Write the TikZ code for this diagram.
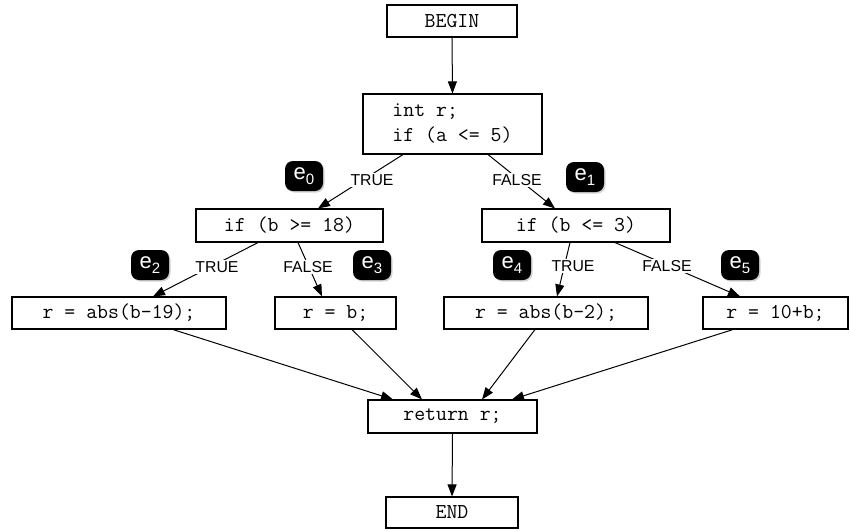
\documentclass[tikz,border=0pt]{standalone}
\usepackage{fontspec}
\setmainfont{Liberation Sans}
\usetikzlibrary{arrows.meta,shadows}
\tikzset{
  box/.style={draw=black, line width=1.1pt, fill=white, inner sep=0pt, minimum height=32pt,
    font=\ttfamily\fontsize{21.2}{25}\selectfont},
  lbl/.style={fill=white, inner sep=1.5pt, font=\fontsize{15.8}{16}\selectfont},
  conn/.style={line width=1pt, -{Triangle[length=12pt,width=9pt]}},
  badge/.style={fill=black, rounded corners=8pt, minimum width=38pt, minimum height=30pt, inner sep=0pt,
    text=white, drop shadow={shadow xshift=1.5pt, shadow yshift=-1.5pt, opacity=0.35}}
}
\newcommand{\ebadge}[1]{\fontsize{22}{22}\selectfont e\raisebox{-5pt}{\fontsize{15}{15}\selectfont #1}}
\begin{document}
\begin{tikzpicture}[x=1pt,y=-1pt]
\useasboundingbox (0,0) rectangle (850,530);
% boxes
\node[box, minimum width=130pt, minimum height=32pt] (begin) at (452,21) {BEGIN};
\node[box, minimum width=179pt, minimum height=60pt, align=left] (int) at (452.5,124) {int r;\\if (a <= 5)};
\node[box, minimum width=187pt, minimum height=33pt] (b18) at (289.5,225.5) {if (b >= 18)};
\node[box, minimum width=188pt, minimum height=33pt] (b3) at (576,225.5) {if (b <= 3)};
\node[box, minimum width=214pt] (abs19) at (119,313) {r = abs(b-19);};
\node[box, minimum width=121pt] (rb) at (335.5,313) {r = b;};
\node[box, minimum width=204pt] (abs2) at (546,313) {r = abs(b-2);};
\node[box, minimum width=145pt] (tenb) at (775.5,313) {r = 10+b;};
\node[box, minimum width=169pt, minimum height=33pt] (ret) at (452.5,416.5) {return r;};
\node[box, minimum width=132pt, minimum height=31pt] (end) at (452,512.5) {END};
% connectors
\draw[conn] (begin.south) -- (int.north);
\draw[conn] ([xshift=-49.5pt]int.south) -- node[lbl, xshift=11.5pt, yshift=1.5pt] {TRUE} ([xshift=28.5pt]b18.north);
\draw[conn] ([xshift=35.5pt]int.south) -- node[lbl, xshift=-4.5pt, yshift=1.5pt] {FALSE} ([xshift=-21pt]b3.north);
\draw[conn] ([xshift=-31.5pt]b18.south) -- node[lbl, xshift=11.5pt, yshift=2.5pt] {TRUE} ([xshift=34pt]abs19.north);
\draw[conn] ([xshift=8.5pt]b18.south) -- node[lbl, xshift=-2pt, yshift=2.5pt] {FALSE} ([xshift=-13.5pt]rb.north);
\draw[conn] ([xshift=-6pt]b3.south) -- node[lbl, xshift=9.5pt, yshift=3.5pt] {TRUE} ([xshift=11pt]abs2.north);
\draw[conn] ([xshift=39pt]b3.south) -- node[lbl, xshift=-10.5pt, yshift=3.5pt] {FALSE} ([xshift=-35.5pt]tenb.north);
\draw[conn] ([xshift=54pt]abs19.south) -- ([xshift=-59.5pt]ret.north);
\draw[conn] ([xshift=16.5pt]rb.south) -- ([xshift=-30.5pt]ret.north);
\draw[conn] ([xshift=-11pt]abs2.south) -- ([xshift=29.5pt]ret.north);
\draw[conn] ([xshift=-42.5pt]tenb.south) -- ([xshift=59.5pt]ret.north);
\draw[conn] (ret.south) -- (end.north);
% badges
\node[badge] (e0) at (304,176) {\ebadge{0}};
\node[badge] (e1) at (585,177) {\ebadge{1}};
\node[badge] (e2) at (150,265) {\ebadge{2}};
\node[badge] (e3) at (372,265) {\ebadge{3}};
\node[badge] (e4) at (512,265) {\ebadge{4}};
\node[badge] (e5) at (740,265) {\ebadge{5}};
\end{tikzpicture}
\end{document}
